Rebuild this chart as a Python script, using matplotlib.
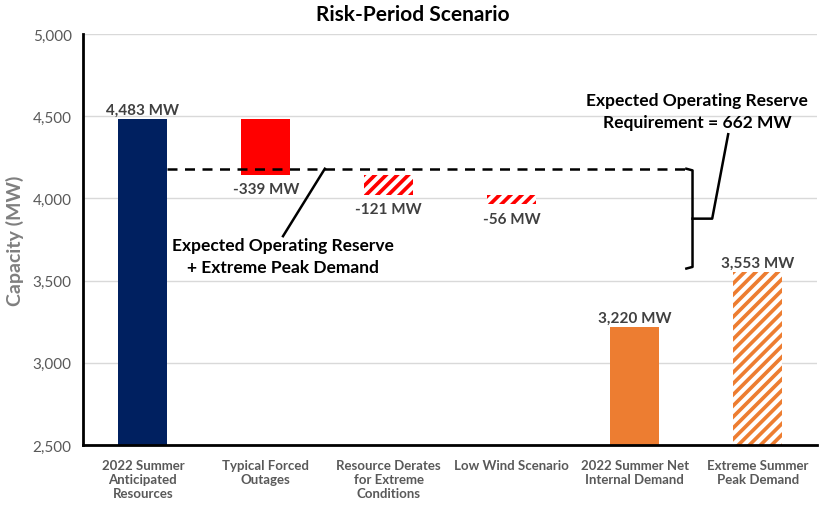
import numpy as np
import matplotlib
matplotlib.use('Agg')
from matplotlib import pyplot as plt
from matplotlib.ticker import FuncFormatter

plt.rcParams['font.family'] = ['Lato', 'DejaVu Sans']
plt.rcParams['hatch.linewidth'] = 3.0

categories = ['2022 Summer\nAnticipated\nResources', 'Typical Forced\nOutages',
              'Resource Derates\nfor Extreme\nConditions', 'Low Wind Scenario',
              '2022 Summer Net\nInternal Demand', 'Extreme Summer\nPeak Demand']
resources = 4483
deltas = [-339, -121, -56]
net_demand = 3220
extreme_demand = 3553
value_labels = ['4,483 MW', '-339 MW', '-121 MW', '-56 MW', '3,220 MW', '3,553 MW']

navy = '#002060'
red = '#FF0000'
orange = '#ED7D31'
txt = '#404040'

fig = plt.figure(figsize=(8.2, 5.06), dpi=100)
ax = fig.add_axes([0.101, 0.1186, 0.895, 0.8124])
x = np.arange(len(categories))
w = 0.4
base = 2500

# resources bar
ax.bar(x[0], resources - base, bottom=base, width=w, color=navy)

# waterfall steps
tops = resources + np.concatenate([[0], np.cumsum(deltas)[:-1]])
for i, (t, d) in enumerate(zip(tops, deltas)):
    if i == 0:
        ax.bar(x[1 + i], -d, bottom=t + d, width=w, color=red)
    else:
        ax.bar(x[1 + i], -d, bottom=t + d, width=w, color=red,
               edgecolor='white', linewidth=0, hatch='///')

# demand bars
ax.bar(x[4], net_demand - base, bottom=base, width=w, color=orange)
ax.bar(x[5], extreme_demand - base, bottom=base, width=w, color=orange,
       edgecolor='white', linewidth=0, hatch='///')

# value labels
ax.text(x[0], resources + 12, value_labels[0], ha='center', va='bottom',
        fontsize=11, fontweight='bold', color=txt)
for i, (t, d) in enumerate(zip(tops, deltas)):
    ax.text(x[1 + i], t + d - 90, value_labels[1 + i], ha='center', va='center',
            fontsize=11, fontweight='bold', color=txt)
ax.text(x[4], net_demand + 12, value_labels[4], ha='center', va='bottom',
        fontsize=11, fontweight='bold', color=txt)
ax.text(x[5], extreme_demand + 12, value_labels[5], ha='center', va='bottom',
        fontsize=11, fontweight='bold', color=txt)

# reserve line and bracket
line_y = 4180
bot_y = 3573
bx = 4.47
ax.plot([x[0] + w / 2, bx - 0.05], [line_y, line_y], ls=(0, (4, 3)), color='black', lw=1.8)
ax.plot([bx - 0.05, bx, bx, bx - 0.05], [line_y, line_y - 10, bot_y + 10, bot_y],
        color='black', lw=1.8)
mid = (line_y + bot_y) / 2
ax.plot([bx, bx + 0.16, bx + 0.29], [mid, mid, 4390], color='black', lw=1.8)
ax.text(4.51, 4530, 'Expected Operating Reserve\nRequirement = 662 MW', ha='center',
        va='center', fontsize=12.5, fontweight='bold', color='black', linespacing=1.45)

ax.plot([1.48, 1.14], [line_y, 3770], color='black', lw=1.8)
ax.text(1.14, 3650, 'Expected Operating Reserve\n+ Extreme Peak Demand', ha='center',
        va='center', fontsize=12.5, fontweight='bold', color='black', linespacing=1.45)

ax.set_ylim(2500, 5000)
ax.set_xlim(-0.488, 5.48)
ax.set_yticks(np.arange(2500, 5001, 500))
ax.yaxis.set_major_formatter(FuncFormatter(lambda v, p: f'{int(v):,}'))
ax.set_xticks(x)
ax.set_xticklabels(categories, fontsize=9.5, fontweight='bold', color='#595959')
ax.tick_params(axis='y', labelsize=11, labelcolor='#595959', length=0, pad=8)
ax.tick_params(axis='x', length=0, pad=10)
ax.grid(axis='y', color='#D9D9D9', lw=1)
ax.set_axisbelow(True)
for s in ['top', 'right']:
    ax.spines[s].set_visible(False)
ax.spines['left'].set_linewidth(2)
ax.spines['bottom'].set_linewidth(2)
ax.set_ylabel('Capacity (MW)', fontsize=14, fontweight='bold', color='#7F7F7F', labelpad=6)

fig.text(0.503, 0.97, 'Risk-Period Scenario', ha='center', va='center',
         fontsize=15, fontweight='bold', color='black')

fig.savefig('out.png', dpi=100)
